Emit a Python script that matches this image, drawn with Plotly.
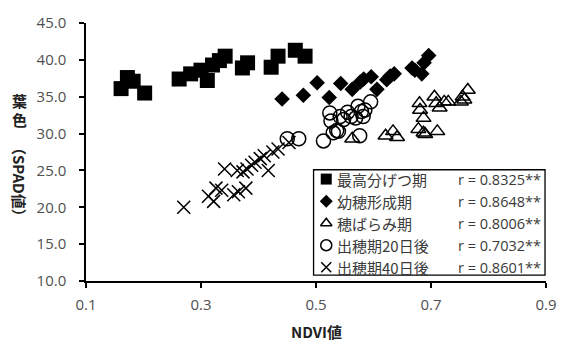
import plotly.graph_objects as go

# ---------------- data ----------------
series_names = ["最高分げつ期", "幼穂形成期", "穂ばらみ期", "出穂期20日後", "出穂期40日後"]
r_labels = ["r = 0.8325**", "r = 0.8648**", "r = 0.8006**", "r = 0.7032**", "r = 0.8601**"]

tiller_x = [0.161, 0.172, 0.182, 0.202, 0.262, 0.282, 0.300, 0.311, 0.320, 0.332, 0.342,
            0.372, 0.381, 0.422, 0.434, 0.464, 0.481]
tiller_y = [36.1, 37.6, 37.1, 35.5, 37.4, 38.1, 38.6, 37.2, 39.3, 39.9, 40.5,
            38.9, 39.6, 39.0, 40.5, 41.3, 40.5]

panicle_x = [0.441, 0.478, 0.502, 0.523, 0.543, 0.563, 0.577, 0.583, 0.596, 0.606,
             0.623, 0.629, 0.636, 0.667, 0.672, 0.684, 0.688, 0.696]
panicle_y = [34.7, 35.2, 36.9, 34.9, 36.8, 36.0, 37.0, 37.4, 37.7, 36.0,
             37.3, 37.8, 38.1, 38.9, 38.6, 38.1, 39.6, 40.6]

boot_x = [0.563, 0.621, 0.634, 0.641, 0.678, 0.680, 0.681, 0.687, 0.687, 0.690,
          0.706, 0.709, 0.711, 0.715, 0.723, 0.730, 0.752, 0.755, 0.758, 0.764]
boot_y = [29.3, 29.7, 30.3, 29.5, 30.6, 34.1, 33.2, 32.1, 30.1, 29.9,
          35.0, 34.1, 30.3, 33.5, 34.3, 34.3, 34.3, 35.0, 34.6, 35.9]

h20_x = [0.450, 0.470, 0.513, 0.524, 0.526, 0.530, 0.536, 0.539, 0.542, 0.548,
         0.555, 0.561, 0.569, 0.573, 0.576, 0.579, 0.582, 0.585, 0.595]
h20_y = [29.3, 29.3, 29.0, 32.8, 31.7, 30.1, 30.4, 30.3, 32.3, 31.9,
         32.9, 32.3, 32.1, 33.7, 29.7, 33.0, 32.3, 33.2, 34.3]

h40_x = [0.270, 0.313, 0.322, 0.326, 0.336, 0.341, 0.357, 0.363, 0.365, 0.373,
         0.378, 0.380, 0.388, 0.394, 0.403, 0.410, 0.417, 0.425, 0.434, 0.453]
h40_y = [20.0, 21.5, 20.8, 22.6, 22.3, 25.2, 21.7, 25.0, 22.1, 24.8,
         22.6, 25.2, 25.7, 26.1, 26.6, 27.0, 25.0, 27.5, 27.9, 28.8]

xs = [tiller_x, panicle_x, boot_x, h20_x, h40_x]
ys = [tiller_y, panicle_y, boot_y, h20_y, h40_y]

# ---------------- styles ----------------
symbols = ["square", "diamond", "triangle-up-open", "circle-open", "x-thin-open"]
sizes = [15, 12, 13, 14, 13]
key_sizes = [11, 10, 10, 11, 10]
lw = [0, 0, 1.5, 1.5, 1.5]

W, H = 569, 342
L, R, T, B = 86, 12, 19, 61
pw, ph = W - L - R, H - T - B


def px2paper_x(px):
    return (px - L) / pw


def px2paper_y(py):
    return (H - B - py) / ph


LATIN = "Open Sans, Liberation Sans, sans-serif"
CJK = "Noto Sans CJK JP, sans-serif"

fig = go.Figure()
for i in range(5):
    fig.add_trace(go.Scatter(
        x=xs[i], y=ys[i], mode="markers", name=series_names[i], showlegend=False,
        marker=dict(symbol=symbols[i], size=sizes[i], color="black",
                    line=dict(color="black", width=lw[i])),
    ))

# custom legend (box, keys, labels)
box_l, box_r, box_t, box_b = 319, 556, 168, 275
row0, row_h = 177.5, 22.4
key_x = 332
text_x = 341
r_x = 554

key_px = [px2paper_x(key_x)] * 5
key_py = [px2paper_y(row0 + i * row_h) for i in range(5)]
for i in range(5):
    fig.add_trace(go.Scatter(
        x=[key_px[i]], y=[key_py[i]], xaxis="x2", yaxis="y2", mode="markers",
        showlegend=False, hoverinfo="skip",
        marker=dict(symbol=symbols[i], size=key_sizes[i], color="black",
                    line=dict(color="black", width=lw[i] if lw[i] else 0)),
    ))

shapes = [dict(type="rect", xref="paper", yref="paper",
               x0=px2paper_x(box_l), x1=px2paper_x(box_r),
               y0=px2paper_y(box_b), y1=px2paper_y(box_t),
               line=dict(color="black", width=1.3), fillcolor="rgba(0,0,0,0)", layer="above")]

annotations = []
for i in range(5):
    yy = px2paper_y(row0 + i * row_h)
    annotations.append(dict(x=px2paper_x(text_x), y=yy, xref="paper", yref="paper",
                            text=series_names[i], showarrow=False, xanchor="left", yanchor="middle",
                            font=dict(family=CJK, size=15, color="#3a3a3a")))
    annotations.append(dict(x=px2paper_x(r_x), y=yy, xref="paper", yref="paper",
                            text=r_labels[i], showarrow=False, xanchor="right", yanchor="middle",
                            font=dict(family=LATIN, size=14.5, color="#3a3a3a")))

# y-axis title: upright 葉色 + rotated （SPAD値）
annotations.append(dict(x=px2paper_x(18), y=px2paper_y(98), xref="paper", yref="paper",
                        text="<b>葉</b>", showarrow=False, xanchor="center", yanchor="middle",
                        font=dict(family=CJK, size=15, color="#222222")))
annotations.append(dict(x=px2paper_x(18), y=px2paper_y(117), xref="paper", yref="paper",
                        text="<b>色</b>", showarrow=False, xanchor="center", yanchor="middle",
                        font=dict(family=CJK, size=15, color="#222222")))
annotations.append(dict(x=px2paper_x(18), y=px2paper_y(180), xref="paper", yref="paper",
                        text="<b>（SPAD値）</b>", showarrow=False, textangle=90,
                        xanchor="center", yanchor="middle",
                        font=dict(family=CJK, size=15, color="#222222")))
# x-axis title
annotations.append(dict(x=px2paper_x(322), y=px2paper_y(332), xref="paper", yref="paper",
                        text="<b>NDVI値</b>", showarrow=False, xanchor="center", yanchor="middle",
                        font=dict(family=CJK, size=15, color="#222222")))

fig.update_layout(
    width=W, height=H,
    margin=dict(l=L, r=R, t=T, b=B),
    paper_bgcolor="white", plot_bgcolor="white",
    showlegend=False,
    shapes=shapes, annotations=annotations,
    xaxis=dict(range=[0.1, 0.9], dtick=0.2, tick0=0.1, tickformat=".1f",
               showgrid=False, zeroline=False, showline=True, linecolor="black", linewidth=1.5,
               ticks="outside", ticklen=5, tickwidth=1.5, tickcolor="black",
               ticklabelstandoff=4,
               tickfont=dict(family=LATIN, size=15, color="#505050")),
    yaxis=dict(range=[10, 45], dtick=5, tickformat=".1f",
               showgrid=False, zeroline=False, showline=True, linecolor="black", linewidth=1.5,
               ticks="outside", ticklen=5, tickwidth=1.5, tickcolor="black",
               ticklabelstandoff=10,
               tickfont=dict(family=LATIN, size=15, color="#505050")),
    xaxis2=dict(range=[0, 1], overlaying="x", visible=False, fixedrange=True),
    yaxis2=dict(range=[0, 1], overlaying="y", visible=False, fixedrange=True),
)

fig.write_html("out.html")
